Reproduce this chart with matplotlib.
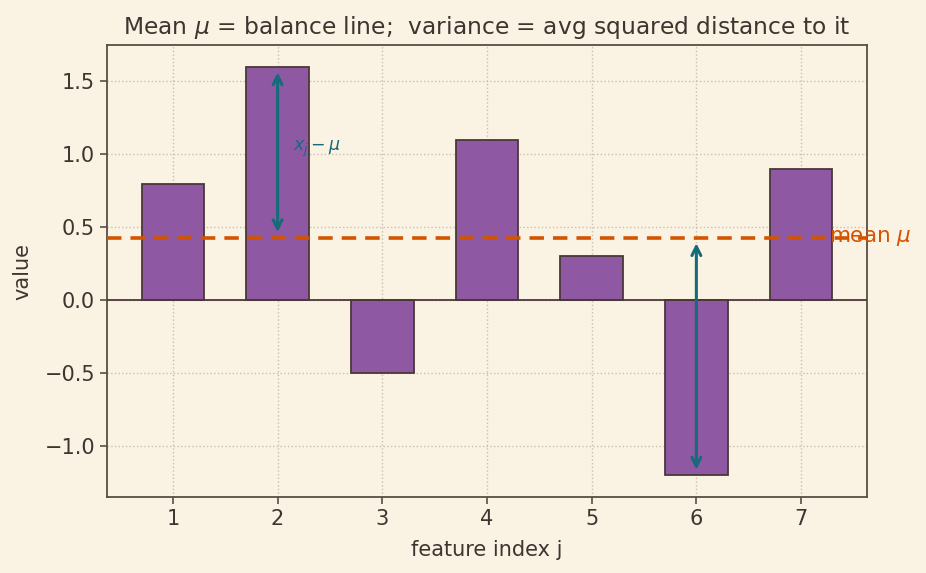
import numpy as np
import matplotlib
matplotlib.use("Agg")
import matplotlib.pyplot as plt

features = [1, 2, 3, 4, 5, 6, 7]
values = [0.8, 1.6, -0.5, 1.1, 0.3, -1.2, 0.9]
arrow_features = [2, 6]

bg = "#faf2e3"
txt = "#3d3530"
purple = "#8e58a3"
edge = "#4a3838"
teal = "#166b7a"
orange = "#d35400"

mu = float(np.mean(values))

plt.rcParams['font.family'] = ['DejaVu Sans']
fig, ax = plt.subplots(figsize=(9.26, 5.73), dpi=100)
fig.patch.set_facecolor(bg)
ax.set_facecolor(bg)

ax.bar(features, values, width=0.6, color=purple, edgecolor=edge, linewidth=1.3, zorder=2)
ax.axhline(0, color=edge, linewidth=1.3, zorder=3)
ax.axhline(mu, color=orange, linestyle=(0, (4, 2.5)), linewidth=2.6, zorder=4)

for f in arrow_features:
    v = values[features.index(f)]
    ax.annotate("", xy=(f, mu), xytext=(f, v),
                arrowprops=dict(arrowstyle="<->", color=teal, lw=2.2, mutation_scale=16,
                                shrinkA=4, shrinkB=4), zorder=5)

f0 = arrow_features[0]
v0 = values[features.index(f0)]
ax.text(f0 + 0.15, (v0 + mu) / 2 + 0.02, r"$x_j - \mu$", color=teal, fontsize=12.5,
        ha="left", va="center", zorder=6)
ax.text(7.27, mu, r"mean $\mu$", color=orange, fontsize=15.5, ha="left", va="center",
        zorder=6, clip_on=False)

ax.set_ylim(-1.35, 1.75)
ax.set_xticks(features)
ax.grid(True, linestyle=":", color="#c9bfae", linewidth=1.0, zorder=0)
ax.set_axisbelow(True)
for s in ax.spines.values():
    s.set_color("#5a4e44")
    s.set_linewidth(1.3)
ax.tick_params(colors=txt, labelsize=15, color="#5a4e44", length=5, width=1.2)
ax.set_xlabel("feature index j", fontsize=15, color=txt, labelpad=8)
ax.set_ylabel("value", fontsize=15, color=txt, labelpad=9)
ax.set_title(r"Mean $\mu$ = balance line;  variance = avg squared distance to it",
             fontsize=16.8, color=txt, pad=8)

fig.subplots_adjust(left=0.1155, right=0.9363, top=0.9215, bottom=0.1326)
fig.savefig("out.png", dpi=100, facecolor=bg)
